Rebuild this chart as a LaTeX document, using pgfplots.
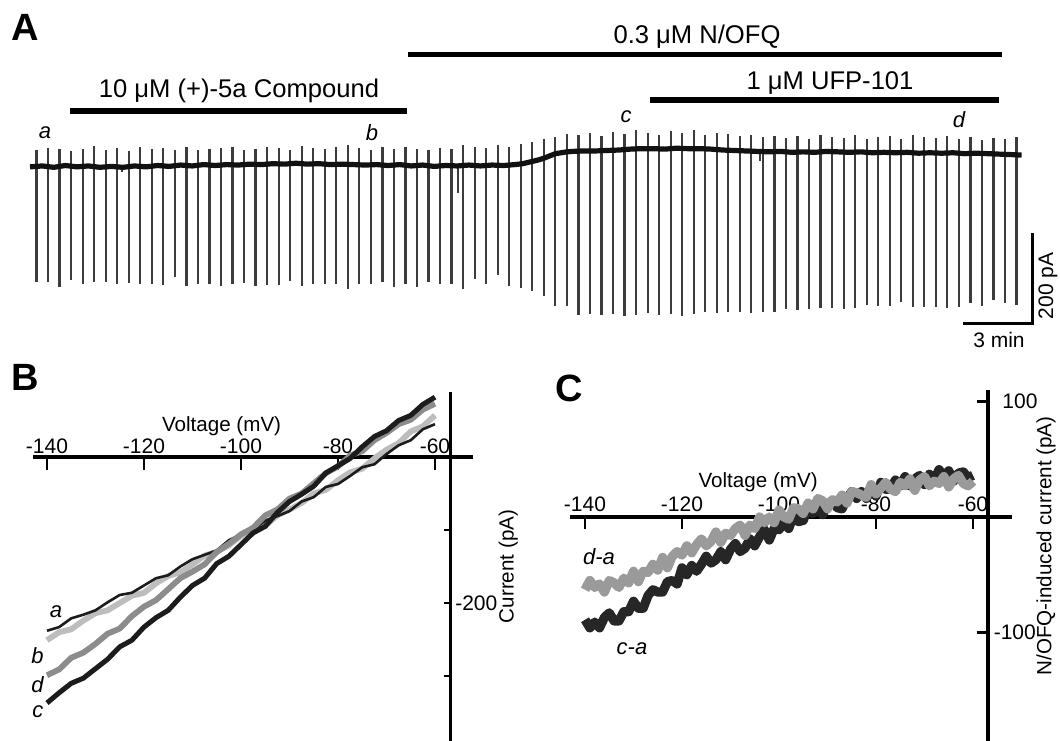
\documentclass[border=0pt]{standalone}
\usepackage{fontspec}
\setmainfont{Liberation Sans}
\usepackage{pgfplots}
\pgfplotsset{compat=1.18}
\newcommand\fs[1]{\fontsize{#1}{#1}\selectfont}
\definecolor{trace}{HTML}{111111}
\definecolor{spk}{HTML}{3C3C3C}
\definecolor{lgray}{HTML}{BDBDBD}
\definecolor{mgray}{HTML}{8C8C8C}
\definecolor{dk}{HTML}{1C1C1C}
\definecolor{cdk}{HTML}{262626}
\definecolor{cgray}{HTML}{9A9A9A}
\begin{document}
\begin{tikzpicture}
\path[use as bounding box] (0,0) rectangle (530pt,370pt);
% ---------------- Panel A ----------------
\begin{axis}[scale only axis, width=530pt, height=172.65pt, at={(0pt,197.4pt)}, anchor=south west,
  xmin=-95, xmax=2663, ymin=-394, ymax=365, hide axis, clip=false, unbounded coords=jump]
\addplot[spk, line width=1.1pt, forget plot] coordinates {
(0,36)(0,-255)(0,nan) (30,40)(30,-255)(30,nan) (60,38)(60,-265)(60,nan) (90,33)(90,-251)(90,nan)
(120,37)(120,-259)(120,nan) (150,44)(150,-255)(150,nan) (180,35)(180,-254)(180,nan) (210,39)(210,-260)(210,nan)
(222,0)(222,-13)(222,nan)
(240,33)(240,-257)(240,nan) (270,41)(270,-260)(270,nan) (300,37)(300,-260)(300,nan) (330,40)(330,-262)(330,nan)
(360,36)(360,-244)(360,nan) (390,41)(390,-264)(390,nan) (420,34)(420,-260)(420,nan) (450,38)(450,-260)(450,nan)
(480,40)(480,-263)(480,nan) (510,42)(510,-260)(510,nan) (540,36)(540,-257)(540,nan) (570,38)(570,-264)(570,nan)
(600,42)(600,-262)(600,nan) (630,40)(630,-262)(630,nan) (660,36)(660,-252)(660,nan) (690,44)(690,-264)(690,nan)
(720,40)(720,-260)(720,nan) (750,38)(750,-259)(750,nan) (780,42)(780,-259)(780,nan) (810,45)(810,-270)(810,nan)
(840,40)(840,-259)(840,nan) (870,36)(870,-259)(870,nan) (900,42)(900,-255)(900,nan) (930,38)(930,-266)(930,nan)
(960,42)(960,-260)(960,nan) (990,38)(990,-266)(990,nan) (1020,36)(1020,-254)(1020,nan) (1050,40)(1050,-259)(1050,nan)
(1080,38)(1080,-259)(1080,nan) (1097,0)(1097,-59)(1097,nan) (1110,47)(1110,-270)(1110,nan) (1140,42)(1140,-248)(1140,nan)
(1170,40)(1170,-259)(1170,nan) (1200,45)(1200,-240)(1200,nan) (1230,41)(1230,-264)(1230,nan) (1260,48)(1260,-268)(1260,nan)
(1290,52)(1290,-275)(1290,nan) (1320,60)(1320,-286)(1320,nan) (1350,64)(1350,-308)(1350,nan) (1380,70)(1380,-308)(1380,nan)
(1410,68)(1410,-327)(1410,nan) (1440,72)(1440,-325)(1440,nan) (1470,66)(1470,-328)(1470,nan) (1500,74)(1500,-326)(1500,nan)
(1530,70)(1530,-329)(1530,nan) (1560,78)(1560,-327)(1560,nan) (1590,72)(1590,-324)(1590,nan) (1620,68)(1620,-328)(1620,nan)
(1650,76)(1650,-326)(1650,nan) (1680,72)(1680,-329)(1680,nan) (1710,80)(1710,-325)(1710,nan) (1740,68)(1740,-320)(1740,nan)
(1770,72)(1770,-323)(1770,nan) (1800,70)(1800,-320)(1800,nan) (1830,65)(1830,-321)(1830,nan) (1860,68)(1860,-323)(1860,nan)
(1883,32)(1883,10)(1883,nan)
(1890,63)(1890,-322)(1890,nan) (1920,66)(1920,-320)(1920,nan) (1950,62)(1950,-314)(1950,nan) (1980,66)(1980,-316)(1980,nan)
(2010,60)(2010,-315)(2010,nan) (2039,30)(2039,13)(2039,nan) (2040,67)(2040,-313)(2040,nan) (2070,63)(2070,-312)(2070,nan)
(2100,62)(2100,-314)(2100,nan) (2130,68)(2130,-312)(2130,nan) (2160,60)(2160,-306)(2160,nan) (2190,63)(2190,-307)(2190,nan)
(2220,66)(2220,-308)(2220,nan) (2250,60)(2250,-298)(2250,nan) (2280,67)(2280,-310)(2280,nan) (2310,63)(2310,-309)(2310,nan)
(2340,62)(2340,-309)(2340,nan) (2370,66)(2370,-312)(2370,nan) (2400,60)(2400,-310)(2400,nan) (2430,64)(2430,-301)(2430,nan)
(2460,58)(2460,-308)(2460,nan) (2490,62)(2490,-295)(2490,nan) (2520,60)(2520,-301)(2520,nan) (2550,63)(2550,-305)(2550,nan)
};
\addplot[trace, line width=2.6pt, line join=round] coordinates {
(-17,-2)(15,0)(45,-3)(75,1)(105,-2)(135,0)(165,-3)(195,-1)(225,-3)(255,0)(285,-2)(315,1)(345,-1)(375,2)
(405,0)(435,3)(465,1)(495,3)(525,2)(555,4)(585,3)(615,5)(645,4)(675,6)(705,4)(735,5)(765,3)(795,4)(825,3)
(855,2)(885,3)(915,1)(945,3)(975,0)(1005,2)(1035,-1)(1065,1)(1095,0)(1125,2)(1155,0)(1185,2)(1215,1)(1245,3)
(1265,5)(1285,9)(1305,13)(1320,17)(1335,22)(1350,27)(1365,29)(1380,31)(1395,32)(1425,33)(1455,33)(1485,34)
(1515,35)(1545,37)(1575,38)(1605,38)(1635,37)(1665,39)(1695,38)(1725,38)(1755,37)(1785,35)(1815,34)(1845,33)
(1875,32)(1905,31)(1935,32)(1965,30)(1995,31)(2025,30)(2055,32)(2085,31)(2115,30)(2145,31)(2175,29)(2205,30)
(2235,29)(2265,30)(2295,28)(2325,29)(2355,28)(2385,29)(2415,27)(2445,28)(2475,27)(2505,26)(2535,25)(2563,24)
};
\end{axis}
% ---------------- Panel B ----------------
\begin{axis}[scale only axis, width=232.8pt, height=178.85pt, at={(8.95pt,-0.85pt)}, anchor=south west,
  xmin=-146, xmax=-50, ymin=-390, ymax=100, hide axis, clip=false]
\draw[line width=1.6pt] (axis cs:-142.8,0) -- (axis cs:-52.1,0);
\draw[line width=1.6pt] (axis cs:-56.8,89.5) -- (axis cs:-56.8,-390);
\pgfplotsinvokeforeach{-140,-120,-100,-80,-60}{
  \draw[line width=1.3pt] (axis cs:#1,0) -- (axis cs:#1,-17.8);
  \node[anchor=base, font=\fs{10.5}, inner sep=0pt] at (axis cs:#1,5.1) {#1};
}
\pgfplotsinvokeforeach{-100,-200,-300}{
  \draw[line width=1.3pt] (axis cs:-58.1,#1) -- (axis cs:-56.8,#1);
}
\node[anchor=west, font=\fs{10.5}, inner sep=0pt] at (axis cs:-55.9,-200) {-200};
\node[anchor=base, font=\fs{10.3}, inner sep=0pt] at (axis cs:-104,35.6) {Voltage (mV)};
\node[rotate=90, font=\fs{10.3}, inner sep=0pt] at (axis cs:-44.9,-150) {Current (pA)};
\addplot[lgray, line width=2.9pt, line join=round] coordinates {
(-140,-251)(-137.5,-240)(-135,-236)(-132.5,-224)(-130,-214)(-127.5,-210)(-125,-200)(-122.5,-190)(-120,-186)
(-117.5,-173)(-115,-163)(-112.5,-158)(-110,-147)(-107.5,-135)(-105,-130)(-102.5,-121)(-100,-108)(-97.5,-100)
(-95,-94)(-92.5,-80)(-90,-72)(-87.5,-63)(-85,-50)(-82.5,-45)(-80,-32)(-77.5,-21)(-75,-16)(-72.5,-2)(-70,10)
(-67.5,19)(-65,35)(-62.5,42)(-60,57)};
\addplot[dk, line width=1.3pt, line join=round] coordinates {
(-140,-238)(-137.5,-233)(-135,-221)(-132.5,-216)(-130,-210)(-127.5,-199)(-125,-189)(-122.5,-186)(-120,-176)
(-117.5,-166)(-115,-162)(-112.5,-150)(-110,-140)(-107.5,-134)(-105,-128)(-102.5,-114)(-100,-106)(-97.5,-100)
(-95,-87)(-92.5,-81)(-90,-74)(-87.5,-61)(-85,-55)(-82.5,-41)(-80,-37)(-77.5,-26)(-75,-14)(-72.5,-10)(-70,4)
(-67.5,16)(-65,23)(-62.5,38)(-60,45)};
\addplot[mgray, line width=2.9pt, line join=round] coordinates {
(-140,-299)(-137.5,-291)(-135,-275)(-132.5,-268)(-130,-256)(-127.5,-242)(-125,-235)(-122.5,-218)(-120,-205)
(-117.5,-196)(-115,-181)(-112.5,-166)(-110,-157)(-107.5,-147)(-105,-130)(-102.5,-119)(-100,-106)(-97.5,-97)
(-95,-80)(-92.5,-72)(-90,-57)(-87.5,-50)(-85,-36)(-82.5,-22)(-80,-13)(-77.5,2)(-75,8)(-72.5,23)(-70,33)
(-67.5,45)(-65,51)(-62.5,65)(-60,73)};
\addplot[dk, line width=2.5pt, line join=round] coordinates {
(-140,-337)(-137.5,-323)(-135,-310)(-132.5,-303)(-130,-290)(-127.5,-277)(-125,-260)(-122.5,-251)(-120,-233)
(-117.5,-220)(-115,-210)(-112.5,-192)(-110,-176)(-107.5,-166)(-105,-146)(-102.5,-136)(-100,-120)(-97.5,-104)
(-95,-95)(-92.5,-76)(-90,-61)(-87.5,-51)(-85,-40)(-82.5,-22)(-80,-12)(-77.5,-2)(-75,14)(-72.5,28)(-70,36)
(-67.5,50)(-65,57)(-62.5,72)(-60,82)};
\end{axis}
% ---------------- Panel C ----------------
\begin{axis}[scale only axis, width=227.95pt, height=179.03pt, at={(282.8pt,-1.1pt)}, anchor=south west,
  xmin=-144, xmax=-50, ymin=-195, ymax=115, hide axis, clip=false]
\draw[line width=1.6pt] (axis cs:-143.1,0) -- (axis cs:-52.0,0);
\draw[line width=1.6pt] (axis cs:-56.9,110) -- (axis cs:-56.9,-195);
\pgfplotsinvokeforeach{-140,-120,-100,-80,-60}{
  \draw[line width=1.3pt] (axis cs:#1,0) -- (axis cs:#1,-10);
  \node[anchor=base, font=\fs{10.5}, inner sep=0pt] at (axis cs:#1,4.6) {#1};
}
\pgfplotsinvokeforeach{100,-100}{
  \draw[line width=1.3pt] (axis cs:-59.2,#1) -- (axis cs:-56.9,#1);
}
\node[anchor=west, font=\fs{10.5}, inner sep=0pt] at (axis cs:-54.0,100) {100};
\node[anchor=west, font=\fs{10.5}, inner sep=0pt] at (axis cs:-55.8,-100) {-100};
\node[anchor=base, font=\fs{10.3}, inner sep=0pt] at (axis cs:-104.3,25.1) {Voltage (mV)};
\node[rotate=90, font=\fs{10.3}, inner sep=0pt] at (axis cs:-44.95,-25.1) {N/OFQ-induced current (pA)};
\addplot[cdk, line width=4.6pt, line join=round] coordinates {
(-140,-89)(-139,-96)(-138,-91)(-137,-96)(-136,-87)(-135,-83)(-134,-90)(-133,-90)(-132,-82)(-131,-82)
(-130,-73)(-129,-79)(-128,-79)(-127,-68)(-126,-63)(-125,-65)(-124,-65)(-123,-56)(-122,-55)(-121,-58)
(-120,-44)(-119,-50)(-118,-42)(-117,-47)(-116,-41)(-115,-34)(-114,-40)(-113,-37)(-112,-30)(-111,-37)
(-110,-28)(-109,-23)(-108,-30)(-107,-27)(-106,-19)(-105,-25)(-104,-17)(-103,-11)(-102,-20)(-101,-10)
(-100,-11)(-99,-5)(-98,-10)(-97,1)(-96,-4)(-95,-3)(-94,8)(-93,3)(-92,7)(-91,2)
(-90,11)(-89,14)(-88,8)(-87,7)(-86,16)(-85,22)(-84,16)(-83,22)(-82,16)(-81,24)
(-80,18)(-79,30)(-78,24)(-77,24)(-76,32)(-75,27)(-74,35)(-73,27)(-72,33)(-71,36)
(-70,28)(-69,37)(-68,32)(-67,41)(-66,35)(-65,40)(-64,31)(-63,38)(-62,39)(-61,34)(-60,36)};
\addplot[cgray, line width=4.6pt, line join=round] coordinates {
(-140,-63)(-139,-55)(-138,-61)(-137,-58)(-136,-65)(-135,-55)(-134,-57)(-133,-61)(-132,-53)(-131,-57)
(-130,-47)(-129,-56)(-128,-47)(-127,-48)(-126,-41)(-125,-46)(-124,-35)(-123,-44)(-122,-34)(-121,-30)
(-120,-33)(-119,-25)(-118,-31)(-117,-24)(-116,-19)(-115,-25)(-114,-21)(-113,-13)(-112,-22)(-111,-14)
(-110,-16)(-109,-10)(-108,-7)(-107,-16)(-106,-7)(-105,-10)(-104,0)(-103,-5)(-102,0)(-101,-5)
(-100,6)(-99,0)(-98,-2)(-97,8)(-96,7)(-95,3)(-94,12)(-93,7)(-92,16)(-91,14)
(-90,7)(-89,15)(-88,13)(-87,19)(-86,12)(-85,22)(-84,21)(-83,19)(-82,17)(-81,28)
(-80,20)(-79,25)(-78,30)(-77,24)(-76,22)(-75,30)(-74,27)(-73,33)(-72,23)(-71,32)
(-70,35)(-69,27)(-68,31)(-67,29)(-66,35)(-65,26)(-64,33)(-63,36)(-62,29)(-61,27)(-60,31)};
\end{axis}
% ---------------- Annotations (pixel grid) ----------------
\begin{scope}[x=0.5pt, y=-0.5pt, shift={(0pt,370pt)}]
 \node[anchor=base west, font=\fs{19}\bfseries, inner sep=0pt] at (11,41) {A};
 \node[anchor=base west, font=\fs{19}\bfseries, inner sep=0pt] at (11,390) {B};
 \node[anchor=base west, font=\fs{19}\bfseries, inner sep=0pt] at (555,401) {C};
 \draw[line width=2.8pt] (70,111) -- (407,111);
 \draw[line width=2.8pt] (408,54.5) -- (1002,54.5);
 \draw[line width=2.8pt] (650,100) -- (999,100);
 \node[anchor=base, font=\fs{12.8}, inner sep=0pt] at (239,98) {10 μM (+)-5a Compound};
 \node[anchor=base, font=\fs{12.8}, inner sep=0pt] at (697,44) {0.3 μM N/OFQ};
 \node[anchor=base, font=\fs{12.8}, inner sep=0pt] at (830,90) {1 μM UFP-101};
 \node[font=\fs{11}\itshape, inner sep=0pt] at (45,133) {a};
 \node[font=\fs{11}\itshape, inner sep=0pt] at (372,133) {b};
 \node[font=\fs{11}\itshape, inner sep=0pt] at (626,117) {c};
 \node[font=\fs{11}\itshape, inner sep=0pt] at (959,120) {d};
 \node[font=\fs{11}\itshape, inner sep=0pt] at (56,612) {a};
 \node[font=\fs{11}\itshape, inner sep=0pt] at (37.5,656) {b};
 \node[font=\fs{11}\itshape, inner sep=0pt] at (37.5,685) {d};
 \node[font=\fs{11}\itshape, inner sep=0pt] at (38,712) {c};
 \node[font=\fs{11}\itshape, inner sep=0pt] at (599,557) {d-a};
 \node[font=\fs{11}\itshape, inner sep=0pt] at (632,649) {c-a};
 \draw[line width=1.5pt] (963,324) -- (1032,324) -- (1032,233);
 \node[rotate=90, font=\fs{10.5}, inner sep=0pt] at (1048,286) {200 pA};
 \node[font=\fs{10.5}, inner sep=0pt] at (999,340) {3 min};
\end{scope}
\end{tikzpicture}
\end{document}
